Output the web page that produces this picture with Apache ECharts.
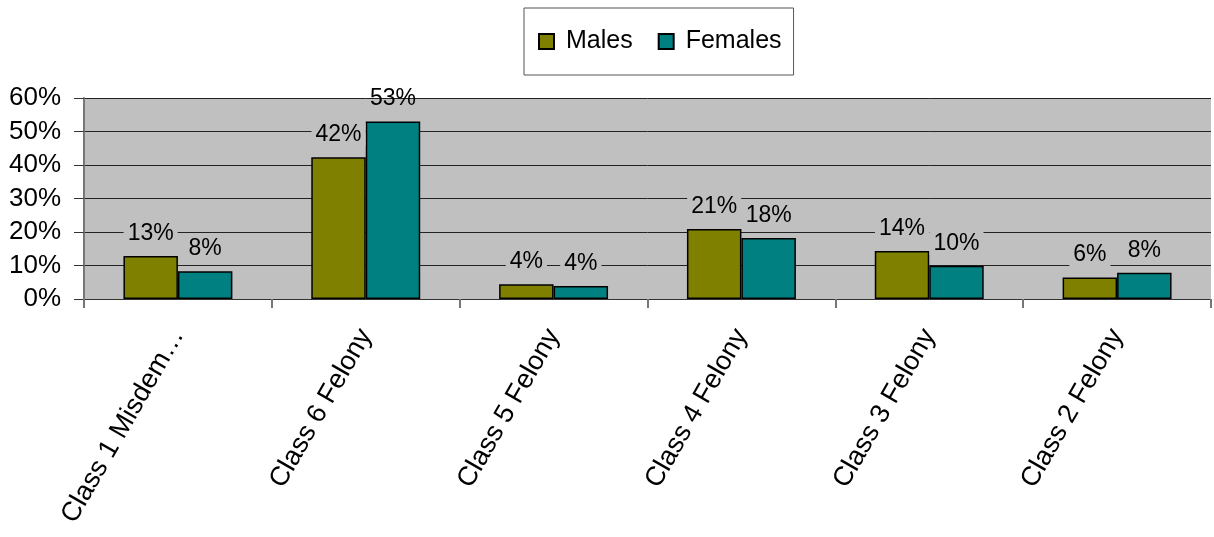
<!DOCTYPE html>
<html>
<head>
<meta charset="utf-8">
<script src="https://cdn.jsdelivr.net/npm/echarts@6/dist/echarts.min.js"></script>
<style>
  html, body { margin: 0; padding: 0; background: #fff; }
  #chart { width: 1214px; height: 537px; }
</style>
</head>
<body>
<div id="chart"></div>
<script>
// categories and values (percent)
const categories = ['Class 1 Misdem…', 'Class 6 Felony', 'Class 5 Felony', 'Class 4 Felony', 'Class 3 Felony', 'Class 2 Felony'];
const males = [12.8, 42.3, 4.4, 20.9, 14.3, 6.4];
const females = [8.3, 53.0, 3.9, 18.2, 9.9, 7.8];
const yTicks = [0, 10, 20, 30, 40, 50, 60];

const font = 'Liberation Sans, Arial, sans-serif';
const chart = echarts.init(document.getElementById('chart'));

const labelStyle = {
  show: true,
  position: 'top',
  distance: 11,
  fontFamily: font,
  fontSize: 23,
  color: '#000',
  backgroundColor: '#C0C0C0',
  padding: [0, 4],
  formatter: p => Math.round(p.value) + '%'
};

// labels sticking out above the plot area get no grey box
function toItems(arr) {
  return arr.map(v => v > 50 ? { value: v, label: { backgroundColor: 'transparent' } } : v);
}

const option = {
  animation: false,
  textStyle: { fontFamily: font },
  legend: {
    data: ['Males', 'Females'],
    top: 8,
    left: 524,
    padding: [21, 12, 21, 14],
    borderColor: '#555',
    borderWidth: 1,
    itemWidth: 15,
    itemHeight: 15,
    itemGap: 25,
    textStyle: { fontSize: 25, color: '#000', fontFamily: font, padding: [0, 0, 0, 7] },
    icon: 'rect'
  },
  grid: {
    left: 84,
    right: 3,
    top: 98,
    bottom: 238,
    backgroundColor: '#C0C0C0',
    show: true,
    borderWidth: 0
  },
  xAxis: {
    type: 'category',
    data: categories,
    axisLine: { lineStyle: { color: '#333', width: 1 } },
    axisTick: { show: true, length: 9, lineStyle: { color: '#777', width: 2 } },
    axisLabel: {
      rotate: 60,
      interval: 0,
      margin: 32,
      fontSize: 27,
      color: '#000',
      fontFamily: font
    }
  },
  yAxis: {
    type: 'value',
    min: yTicks[0],
    max: yTicks[yTicks.length - 1],
    interval: 10,
    axisLine: { show: true, lineStyle: { color: '#777', width: 2 } },
    axisTick: { show: true, length: 10, lineStyle: { color: '#333' } },
    splitLine: { lineStyle: { color: '#222', width: 1 } },
    axisLabel: {
      formatter: '{value}%',
      fontSize: 26,
      color: '#000',
      margin: 23,
      fontFamily: font
    }
  },
  series: [
    {
      name: 'Males',
      type: 'bar',
      data: toItems(males),
      barGap: '0%',
      barCategoryGap: '42%',
      itemStyle: { color: '#808000', borderColor: '#000', borderWidth: 1.5 },
      label: labelStyle
    },
    {
      name: 'Females',
      type: 'bar',
      data: toItems(females),
      itemStyle: { color: '#008080', borderColor: '#000', borderWidth: 1.5 },
      label: labelStyle
    }
  ]
};

chart.setOption(option);
</script>
</body>
</html>
